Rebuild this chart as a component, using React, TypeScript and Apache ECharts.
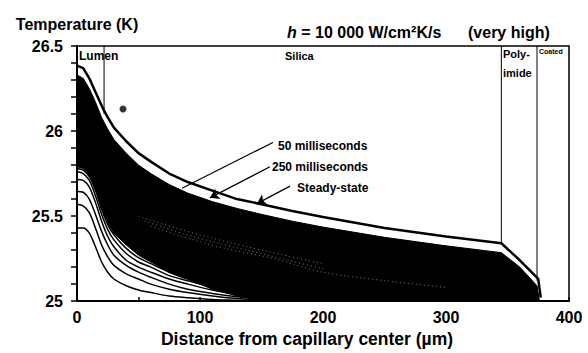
import React, { useEffect, useRef } from "react";
import * as echarts from "echarts";

// x positions (µm) of the early, well separated transient curves
const earlyX = [0, 5, 10, 15, 20, 25, 30, 40, 50, 60, 75, 90, 110, 130, 150, 175, 200];
const early1 = [25.43, 25.43, 25.4, 25.32, 25.23, 25.17, 25.13, 25.09, 25.065, 25.05, 25.03, 25.02, 25.01, 25.005, 25.0, 25.0, 25.0];
const early2 = [25.57, 25.56, 25.52, 25.43, 25.33, 25.26, 25.21, 25.16, 25.13, 25.1, 25.07, 25.05, 25.03, 25.015, 25.005, 25.0, 25.0];
const early3 = [25.645, 25.64, 25.6, 25.51, 25.41, 25.33, 25.27, 25.21, 25.17, 25.14, 25.1, 25.07, 25.045, 25.025, 25.01, 25.0, 25.0];
const early4 = [25.715, 25.71, 25.67, 25.58, 25.47, 25.38, 25.32, 25.24, 25.2, 25.17, 25.13, 25.1, 25.065, 25.04, 25.02, 25.01, 25.0];
const early5 = [25.76, 25.75, 25.71, 25.62, 25.51, 25.42, 25.36, 25.28, 25.23, 25.2, 25.15, 25.12, 25.08, 25.05, 25.03, 25.015, 25.005];
const early6 = [25.78, 25.77, 25.73, 25.65, 25.54, 25.45, 25.39, 25.31, 25.255, 25.22, 25.17, 25.13, 25.09, 25.06, 25.035, 25.02, 25.01];
const earlyCurves = [early1, early2, early3, early4, early5, early6];

// dense family of later curves (merges into a solid band)
const massX = [0, 5, 10, 15, 20, 25, 30, 40, 50, 60, 75, 90, 110, 130, 150, 175, 200, 250, 300, 345, 360, 374, 376];
const massLower = [25.79, 25.78, 25.74, 25.66, 25.55, 25.46, 25.4, 25.33, 25.27, 25.23, 25.17, 25.13, 25.07, 25.03, 25.01, 25.0, 25.0, 25.0, 25.0, 25.0, 25.0, 25.0, 25.0];
const curve250ms = [26.33, 26.31, 26.25, 26.17, 26.08, 26.01, 25.95, 25.87, 25.8, 25.75, 25.685, 25.635, 25.585, 25.545, 25.51, 25.47, 25.435, 25.375, 25.325, 25.285, 25.2, 25.09, 25.0];

// faint gaps visible between neighbouring curves inside the dense band
const gap1X = [50, 80, 110, 150, 200];
const gap1T = [25.5, 25.43, 25.37, 25.3, 25.22];
const gap2X = [55, 85, 115, 155, 200];
const gap2T = [25.47, 25.4, 25.34, 25.27, 25.19];
const gap3X = [60, 90, 120, 160, 200, 250, 300];
const gap3T = [25.44, 25.37, 25.31, 25.25, 25.17, 25.12, 25.08];
const gapCurves = [[gap1X, gap1T], [gap2X, gap2T], [gap3X, gap3T]];

// steady-state profile
const steadyX = [0, 5, 10, 15, 20, 22, 25, 30, 40, 50, 60, 75, 90, 110, 130, 150, 175, 200, 250, 300, 345, 360, 375, 377];
const steadyT = [26.385, 26.37, 26.31, 26.23, 26.15, 26.12, 26.08, 26.02, 25.94, 25.87, 25.82, 25.75, 25.7, 25.65, 25.6, 25.57, 25.53, 25.495, 25.43, 25.38, 25.34, 25.24, 25.13, 25.02];

// material boundaries (µm) and where each boundary line stops
const boundaries = [22, 345, 374];
const boundaryEnds = [26.1, 25.34, 25.12];
const markerPoint = [37.4, 26.13];

// annotation arrows [from, to] in data units
const arrow50 = [[159.3, 25.933], [85.4, 25.664]];
const arrow250 = [[156.9, 25.79], [108.1, 25.607]];
const arrowSteady = [[173.2, 25.676], [146.3, 25.573]];

const xTicks = [0, 100, 200, 300, 400];
const yTicks = [25, 25.5, 26, 26.5];

const FONT = "Liberation Sans";

export default function App() {
  const ref = useRef<HTMLDivElement>(null);
  useEffect(() => {
    if (!ref.current) return;
    const chart = echarts.init(ref.current, null, { renderer: "svg" });
    const black = "#000";
    const series: any[] = [];

    boundaries.forEach((b, i) => {
      series.push({
        type: "line",
        name: "boundary" + i,
        data: [[b, 26.5], [b, boundaryEnds[i]]],
        symbol: "none",
        lineStyle: { color: black, width: 1 },
        z: 1,
      });
    });

    series.push({
      type: "custom",
      name: "later curves",
      data: [[massX[0], massLower[0]]],
      clip: true,
      z: 2,
      renderItem: (params: any, api: any) => {
        const pts: number[][] = [];
        massX.forEach((x, i) => pts.push(api.coord([x, curve250ms[i]])));
        for (let i = massX.length - 1; i >= 0; i--) pts.push(api.coord([massX[i], massLower[i]]));
        return {
          type: "polygon",
          shape: { points: pts },
          style: { fill: black, stroke: black, lineWidth: 1 },
        };
      },
    });

    gapCurves.forEach(([gx, gt], k) => {
      series.push({
        type: "line",
        name: "gap" + k,
        data: gx.map((x, i) => [x, gt[i]]),
        symbol: "none",
        smooth: 0.3,
        lineStyle: { color: "#ffffff", width: 0.8, type: [1, 3], opacity: 0.6 },
        z: 2.5,
      });
    });

    earlyCurves.forEach((c, k) => {
      series.push({
        type: "line",
        name: "early" + k,
        data: earlyX.map((x, i) => [x, c[i]]),
        symbol: "none",
        smooth: 0.3,
        lineStyle: { color: black, width: 1.5 },
        z: 3,
      });
    });

    series.push({
      type: "line",
      name: "Steady-state",
      data: steadyX.map((x, i) => [x, steadyT[i]]),
      symbol: "none",
      lineStyle: { color: black, width: 2.5 },
      z: 4,
      markLine: {
        silent: true,
        symbol: ["none", "arrow"],
        symbolSize: 9,
        label: { show: false },
        lineStyle: { color: black, width: 1.2, type: "solid" },
        data: [
          [
            { coord: arrow50[0], symbol: "none" },
            { coord: arrow50[1], symbol: "none" },
          ],
          [{ coord: arrow250[0], symbol: "none" }, { coord: arrow250[1], symbol: "arrow" }],
          [{ coord: arrowSteady[0], symbol: "none" }, { coord: arrowSteady[1], symbol: "arrow" }],
        ],
      },
    });

    series.push({
      type: "scatter",
      name: "marker",
      data: [markerPoint],
      symbol: "circle",
      symbolSize: 7,
      itemStyle: { color: black },
      z: 5,
    });

    const txt = (text: string, x: number, y: number, size: number) => ({
      type: "text",
      left: x,
      top: y,
      style: { text, fill: black, font: `bold ${size}px "${FONT}"` },
      z: 10,
    });

    chart.setOption({
      animation: false,
      backgroundColor: "#fff",
      grid: {
        left: 77,
        right: 19,
        top: 46,
        bottom: 45,
        show: true,
        backgroundColor: "transparent",
        borderColor: black,
        borderWidth: 1.5,
      },
      xAxis: {
        type: "value",
        min: 0,
        max: 400,
        interval: 50,
        name: "Distance from capillary center (µm)",
        nameLocation: "middle",
        nameGap: 23,
        nameTextStyle: {
          color: black,
          fontFamily: FONT,
          fontWeight: "bold",
          fontSize: 17.5,
          verticalAlign: "top",
          padding: [0, 32, 0, 0],
        },
        axisLine: { lineStyle: { color: black, width: 2 } },
        axisTick: { inside: true, length: 4, lineStyle: { color: black, width: 1.5 } },
        splitLine: { show: false },
        axisLabel: {
          color: black,
          fontFamily: FONT,
          fontWeight: "bold",
          fontSize: 16,
          margin: 8,
          formatter: (v: number) => (xTicks.indexOf(v) >= 0 ? String(v) : ""),
        },
      },
      yAxis: {
        type: "value",
        min: 25,
        max: 26.5,
        interval: 0.1,
        name: "Temperature (K)",
        nameLocation: "end",
        nameGap: 14,
        nameTextStyle: {
          color: black,
          fontFamily: FONT,
          fontWeight: "bold",
          fontSize: 16,
          align: "center",
        },
        axisLine: { show: true, lineStyle: { color: black, width: 2 } },
        axisTick: { show: true, length: 6, lineStyle: { color: black, width: 1.5 } },
        splitLine: { show: false },
        axisLabel: {
          color: black,
          fontFamily: FONT,
          fontWeight: "bold",
          fontSize: 16,
          margin: 14,
          formatter: (v: number) => {
            const hit = yTicks.find((t) => Math.abs(t - v) < 1e-6);
            return hit !== undefined ? String(hit) : "";
          },
        },
      },
      series,
      graphic: [
        {
          type: "text",
          left: 287,
          top: 24,
          z: 10,
          style: {
            text: "{i|h} = 10 000 W/cm²K/s",
            fill: black,
            font: `bold 16px "${FONT}"`,
            rich: { i: { fontStyle: "italic", fontWeight: "bold", fontSize: 16, fontFamily: FONT } },
          },
        },
        txt("(very high)", 468, 24, 16),
        txt("Lumen", 79, 50, 12),
        txt("Silica", 285, 50, 11),
        txt("Poly-", 503, 48, 11),
        txt("imide", 503, 67, 11),
        txt("Coated", 539, 48, 7),
        txt("50 milliseconds", 278, 140, 12),
        txt("250 milliseconds", 272, 161, 12),
        txt("Steady-state", 297, 182, 12),
      ],
    });
    return () => chart.dispose();
  }, []);
  return (
    <div
      ref={ref}
      style={{ position: "absolute", left: 0, top: 0, width: 588, height: 353, background: "#fff" }}
    />
  );
}
